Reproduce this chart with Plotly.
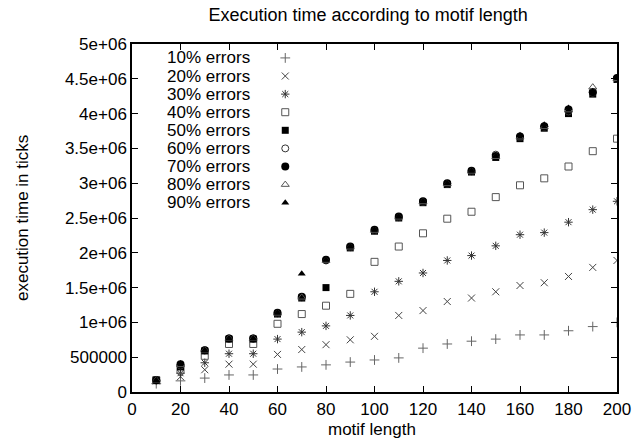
import plotly.graph_objects as go

motif_length = [10, 20, 30, 40, 50, 60, 70, 80, 90, 100,
                110, 120, 130, 140, 150, 160, 170, 180, 190, 200]

err10 = [0.12, 0.16, 0.20, 0.245, 0.245, 0.33, 0.36, 0.39, 0.43, 0.46,
         0.49, 0.63, 0.69, 0.73, 0.76, 0.82, 0.82, 0.88, 0.94, 1.00]
err20 = [0.16, 0.22, 0.32, 0.40, 0.40, 0.54, 0.61, 0.68, 0.75, 0.80,
         1.10, 1.17, 1.30, 1.35, 1.44, 1.53, 1.57, 1.66, 1.79, 1.89]
err30 = [0.17, 0.27, 0.42, 0.55, 0.55, 0.76, 0.86, 0.95, 1.10, 1.44,
         1.59, 1.71, 1.89, 1.96, 2.10, 2.26, 2.29, 2.44, 2.62, 2.74]
err40 = [0.17, 0.32, 0.52, 0.69, 0.69, 0.98, 1.12, 1.24, 1.41, 1.87,
         2.09, 2.28, 2.49, 2.59, 2.80, 2.97, 3.07, 3.24, 3.46, 3.64]
err50 = [0.17, 0.36, 0.59, 0.76, 0.76, 1.12, 1.35, 1.50, 2.07, 2.31,
         2.50, 2.72, 2.98, 3.16, 3.37, 3.64, 3.79, 4.00, 4.28, 4.49]
err60 = [0.17, 0.38, 0.60, 0.77, 0.77, 1.13, 1.36, 1.89, 2.08, 2.32,
         2.51, 2.73, 2.99, 3.17, 3.41, 3.66, 3.81, 4.03, 4.30, 4.50]
err70 = [0.17, 0.40, 0.60, 0.77, 0.77, 1.14, 1.37, 1.90, 2.09, 2.33,
         2.52, 2.74, 3.00, 3.18, 3.39, 3.67, 3.82, 4.06, 4.31, 4.51]
err80 = [0.17, 0.39, 0.60, 0.77, 0.77, 1.13, 1.36, 1.89, 2.08, 2.32,
         2.51, 2.73, 2.99, 3.17, 3.38, 3.66, 3.81, 4.05, 4.38, 4.50]
err90 = [0.17, 0.41, 0.60, 0.77, 0.77, 1.14, 1.70, 1.90, 2.09, 2.33,
         2.52, 2.74, 3.00, 3.18, 3.39, 3.69, 3.84, 4.08, 4.32, 4.52]

series_names = ["10% errors", "20% errors", "30% errors", "40% errors", "50% errors",
                "60% errors", "70% errors", "80% errors", "90% errors"]
series_values = [err10, err20, err30, err40, err50, err60, err70, err80, err90]
MILLION = 1e6

y_tickvals = [0, 500000, 1000000, 1500000, 2000000, 2500000, 3000000,
              3500000, 4000000, 4500000, 5000000]
y_ticktext = ["0", "500000", "1e+06", "1.5e+06", "2e+06", "2.5e+06", "3e+06",
              "3.5e+06", "4e+06", "4.5e+06", "5e+06"]
x_tickvals = [0, 20, 40, 60, 80, 100, 120, 140, 160, 180, 200]

styles = [
    dict(symbol="cross-thin-open", size=7, color="#666666", line=dict(width=1, color="#666666")),
    dict(symbol="x-thin-open", size=7, color="#444444", line=dict(width=1, color="#444444")),
    dict(symbol="asterisk-open", size=7, color="#333333", line=dict(width=1, color="#333333")),
    dict(symbol="square-open", size=7, color="#555555", line=dict(width=1, color="#555555")),
    dict(symbol="square", size=7, color="black", line=dict(width=0)),
    dict(symbol="circle-open", size=7, color="#333333", line=dict(width=1, color="#333333")),
    dict(symbol="circle", size=8, color="black", line=dict(width=0)),
    dict(symbol="triangle-up-open", size=7, color="#555555", line=dict(width=1, color="#555555")),
    dict(symbol="triangle-up", size=7, color="black", line=dict(width=0)),
]

FONT = "Liberation Sans, Arial, sans-serif"
fig = go.Figure()

for name, vals, st in zip(series_names, series_values, styles):
    fig.add_trace(go.Scatter(
        x=motif_length, y=[v * MILLION for v in vals], mode="markers",
        name=name, marker=st, showlegend=False, xaxis="x", yaxis="y"))

annotations = []
# Custom key: text right-aligned, symbol to its right (gnuplot style)
key_top = 0.960
key_step = 0.052
key_text_x = 0.245
key_marker_x = 0.316
for i, (name, st) in enumerate(zip(series_names, styles)):
    yy = key_top - i * key_step
    annotations.append(dict(x=key_text_x, y=yy, xref="x2", yref="y2", text=name,
                            showarrow=False, xanchor="right", yanchor="middle",
                            borderpad=0,
                            font=dict(family=FONT, size=17, color="black")))
    fig.add_trace(go.Scatter(x=[key_marker_x], y=[yy], mode="markers", marker=st,
                             showlegend=False, xaxis="x2", yaxis="y2",
                             hoverinfo="skip"))

annotations += [
    dict(text="motif length", xref="paper", yref="paper", x=0.495, y=0,
         yshift=-37, xanchor="center", yanchor="middle", showarrow=False,
         font=dict(family=FONT, size=17, color="black")),
    dict(text="execution time in ticks", xref="paper", yref="paper", x=0, y=0.5,
         xshift=-110, xanchor="center", yanchor="middle", textangle=-90,
         showarrow=False, font=dict(family=FONT, size=17, color="black")),
]

axis_common = dict(showline=True, linecolor="black", linewidth=1.5, mirror="ticks",
                   ticks="inside", ticklen=6, tickcolor="black", tickwidth=1,
                   showgrid=False, zeroline=False, automargin=False,
                   tickfont=dict(family=FONT, size=17, color="black"))

fig.update_layout(
    width=638, height=446,
    margin=dict(l=132, r=21, t=44, b=54, autoexpand=False),
    paper_bgcolor="white", plot_bgcolor="white",
    title=dict(text="Execution time according to motif length", x=0.577, xanchor="center",
               xref="container", y=1 - 15 / 446, yanchor="middle", yref="container",
               font=dict(family=FONT, size=18, color="black")),
    xaxis=dict(range=[0, 200], tickvals=x_tickvals, ticklabelstandoff=1, **axis_common),
    yaxis=dict(range=[0, 5e6], tickvals=y_tickvals, ticktext=y_ticktext, **axis_common),
    xaxis2=dict(range=[0, 1], overlaying="x", visible=False, fixedrange=True),
    yaxis2=dict(range=[0, 1], overlaying="y", visible=False, fixedrange=True),
    showlegend=False,
    annotations=annotations,
)

fig.write_html("out.html", config={"displayModeBar": False},
               post_script="document.body.style.margin='0px';")
